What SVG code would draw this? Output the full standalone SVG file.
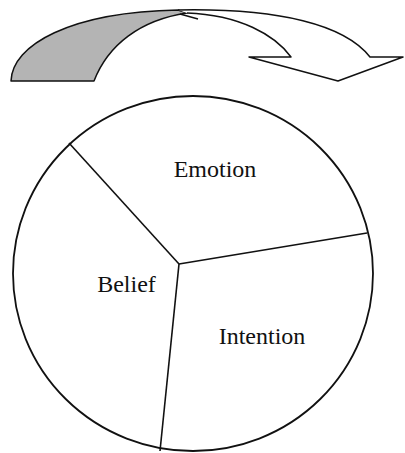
<svg xmlns="http://www.w3.org/2000/svg" width="405" height="453" viewBox="0 0 405 453">
<style>
.ol{fill:none;stroke:#111;stroke-width:1.8;stroke-linejoin:round}
.sp{stroke:#111;stroke-width:1.6;fill:none}
.lbl{font-family:"Liberation Serif","Times New Roman",serif;font-size:24px;fill:#111}
</style>
<rect width="405" height="453" fill="#fff"/>
<g id="arrow">
<path d="M11,81 L94,81 C108,45 140,20 187,13 L178,10 C70,12 12,45 11,81 Z" fill="#b4b4b4" stroke="#111" stroke-width="1.5" stroke-linejoin="round"/>
<path d="M178,10 C280,8 345,25 370,57 L403,57 L338,81 L249,57 L291,57 C275,35 240,15 187,13" fill="#fff" stroke="#111" stroke-width="1.5" stroke-linejoin="round"/>
<line x1="180" y1="14" x2="198" y2="19" stroke="#111" stroke-width="1.3"/>
</g>
<g id="circle">
<ellipse cx="193" cy="273.5" rx="180" ry="177.5" class="ol"/>
</g>
<g id="connectors">
<line class="sp" x1="179" y1="264" x2="69" y2="143"/>
<line class="sp" x1="179" y1="264" x2="367" y2="233"/>
<line class="sp" x1="179" y1="264" x2="160" y2="451"/>
</g>
<g id="emotion"><text class="lbl" x="215" y="177" text-anchor="middle">Emotion</text></g>
<g id="belief"><text class="lbl" x="126.5" y="292" text-anchor="middle">Belief</text></g>
<g id="intention"><text class="lbl" x="262" y="344" text-anchor="middle">Intention</text></g>
</svg>
